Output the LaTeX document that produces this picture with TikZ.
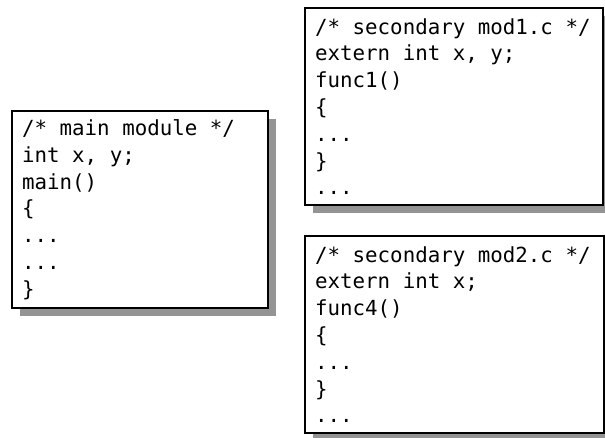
\documentclass[tikz,border=0pt]{standalone}
\usepackage{fontspec}
\newfontfamily\codefam{DejaVu Sans Mono}
\usetikzlibrary{shadows}

% fixed-width code font for the module listings
\newcommand{\codefont}{\codefam\fontsize{20.8}{26.8}\selectfont\frenchspacing}

\begin{document}
\begin{tikzpicture}[x=1pt, y=1pt,
  module/.style={draw=black, line width=2.2pt, fill=white, anchor=north west,
    align=left, inner xsep=10pt, inner ysep=0pt, minimum height=197pt,
    font=\codefont,
    % keep every blank one character wide
    execute at begin node={\spaceskip=0.602em\relax\xspaceskip=0.602em\relax},
    drop shadow={shadow xshift=8pt, shadow yshift=-8pt, fill=black!42, opacity=1}}]
\useasboundingbox (0,0) rectangle (605,438);
% main module on the left
\node[module, text width=236pt] (mainmod) at (11,328) {%
/* main module */\\
int x, y;\\
main()\\
\{\\
...\\
...\\
\}};
% the two secondary modules
\node[module, text width=278pt] (modone) at (304,431) {%
/* secondary mod1.c */\\
extern int x, y;\\
func1()\\
\{\\
...\\
\}\\
...};
\node[module, text width=279pt] (modtwo) at (304,203) {%
/* secondary mod2.c */\\
extern int x;\\
func4()\\
\{\\
...\\
\}\\
...};
\end{tikzpicture}
\end{document}
